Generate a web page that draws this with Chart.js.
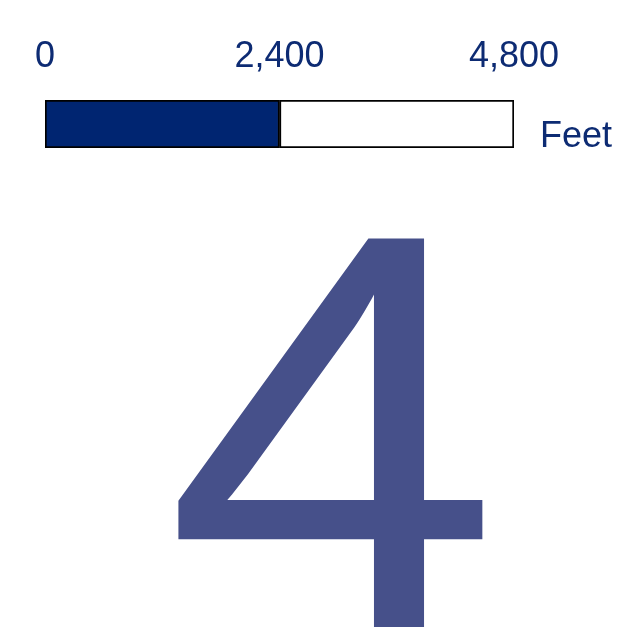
<!DOCTYPE html>
<html>
<head>
<meta charset="utf-8">
<script src="https://cdn.jsdelivr.net/npm/chart.js@4"></script>
<style>
  html, body { margin: 0; padding: 0; background: #ffffff; }
  #box { width: 623px; height: 627px; }
</style>
</head>
<body>
<div id="box"><canvas id="myChart"></canvas></div>
<script>
// datos de la barra de escala
const categorias = ["Escala"];
const tramoLleno = [2400];
const tramoVacio = [2400];
const marcas = [0, 2400, 4800];
const unidad = "Feet";
const numeroPagina = "4";

const azulOscuro = "#002571";
const azulTexto = "#0d2b73";
const azulNumero = "#46508a";

// plugin para el texto "Feet" y el numero grande
const textosExtra = {
  id: "textosExtra",
  afterDraw(chart) {
    const ctx = chart.ctx;
    const area = chart.chartArea;
    ctx.save();
    ctx.fillStyle = azulTexto;
    ctx.font = "36px 'Liberation Sans', Arial, sans-serif";
    ctx.textBaseline = "alphabetic";
    ctx.textAlign = "left";
    ctx.fillText(unidad, area.right + 26, area.bottom - 1);

    // numero grande, ajustado a su caja
    ctx.font = "565px 'Liberation Sans', Arial, sans-serif";
    const m = ctx.measureText(numeroPagina);
    const ancho = m.actualBoundingBoxRight + m.actualBoundingBoxLeft;
    const escala = 311 / ancho;
    ctx.fillStyle = azulNumero;
    ctx.translate(174, 0);
    ctx.scale(escala, 1);
    ctx.fillText(numeroPagina, m.actualBoundingBoxLeft, 230 + m.actualBoundingBoxAscent);
    ctx.restore();
  }
};

const config = {
  type: "bar",
  data: {
    labels: categorias,
    datasets: [
      {
        data: tramoLleno,
        backgroundColor: azulOscuro,
        borderColor: "#000000",
        borderWidth: 2,
        borderSkipped: false
      },
      {
        data: tramoVacio,
        backgroundColor: "#ffffff",
        borderColor: "#000000",
        borderWidth: 2,
        borderSkipped: false
      }
    ]
  },
  options: {
    indexAxis: "y",
    responsive: true,
    maintainAspectRatio: false,
    animation: false,
    events: [],
    layout: {
      padding: { left: 45, right: 109, top: 12, bottom: 479 }
    },
    datasets: {
      bar: { barPercentage: 1, categoryPercentage: 1 }
    },
    plugins: {
      legend: { display: false },
      tooltip: { enabled: false }
    },
    scales: {
      x: {
        position: "top",
        stacked: true,
        min: 0,
        max: 4800,
        afterBuildTicks: (axis) => {
          axis.ticks = marcas.map((v) => ({ value: v }));
        },
        // mas alto para que no se corten las etiquetas
        afterFit: (axis) => {
          axis.height += 20;
        },
        grid: { display: false },
        border: { display: false },
        ticks: {
          color: azulTexto,
          padding: 13,
          maxRotation: 0,
          font: { family: "'Liberation Sans', Arial, sans-serif", size: 36 },
          callback: (v) => Number(v).toLocaleString("en-US")
        }
      },
      y: {
        stacked: true,
        display: false
      }
    }
  },
  plugins: [textosExtra]
};

new Chart(document.getElementById("myChart"), config);
</script>
</body>
</html>
